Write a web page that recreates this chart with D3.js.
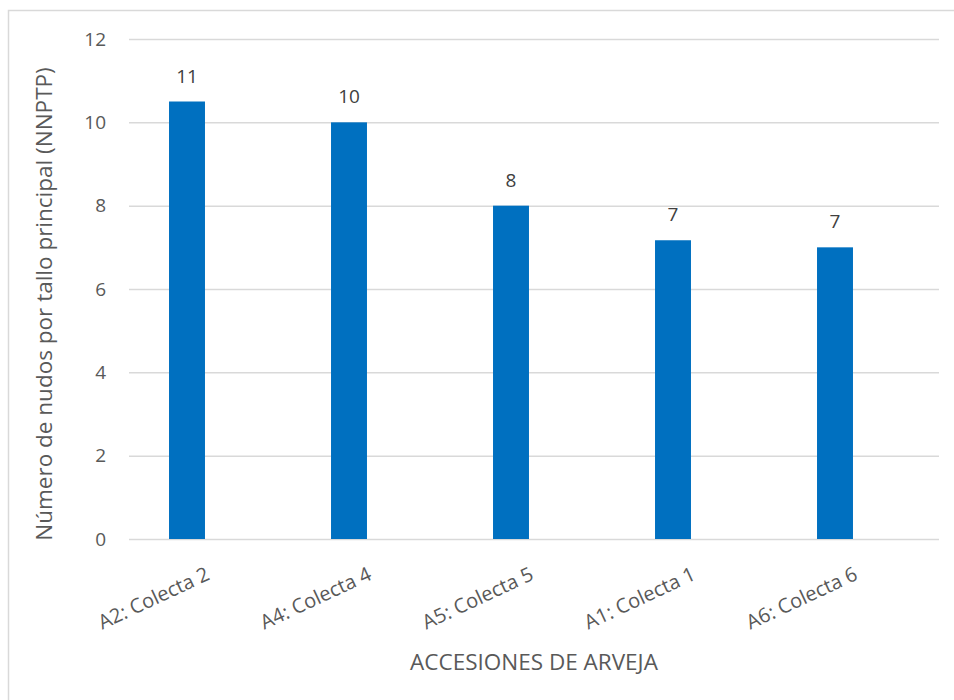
<!DOCTYPE html>
<html>
<head>
<meta charset="utf-8">
<script src="https://cdn.jsdelivr.net/npm/d3@7"></script>
<style>
  html, body { margin: 0; padding: 0; background: #fff; }
  svg { display: block; font-family: "Open Sans", "Noto Sans", sans-serif; }
</style>
</head>
<body>
<svg id="chart" width="954" height="700"></svg>
<script>
// Accessions and mean number of nodes on the main stem
const categories = ["A2: Colecta 2", "A4: Colecta 4", "A5: Colecta 5", "A1: Colecta 1", "A6: Colecta 6"];
const values = [10.5, 10, 8, 7.17, 7];
const yTicks = [0, 2, 4, 6, 8, 10, 12];
const yTitle = "Número de nudos por tallo principal (NNPTP)";
const xTitle = "ACCESIONES DE ARVEJA";

const W = 954, H = 700;
const plot = { left: 129, right: 939, top: 39, bottom: 539 };
const textColor = "#595959";
const gridColor = "#d9d9d9";
const barColor = "#0070c0";

const svg = d3.select("#chart");

// chart frame
svg.append("rect")
  .attr("x", 8.5).attr("y", 10.5)
  .attr("width", W + 20).attr("height", H + 20)
  .attr("fill", "none").attr("stroke", gridColor).attr("stroke-width", 1.5);

const y = d3.scaleLinear().domain([0, 12]).range([plot.bottom, plot.top]);

// category bands (bars sit slightly left of the grid's centre)
const x = d3.scaleBand()
  .domain(categories)
  .range([106, 916])
  .paddingInner(0.778)
  .paddingOuter(0.389);

// horizontal gridlines and value labels
const yAxis = d3.axisLeft(y)
  .tickValues(yTicks)
  .tickSize(-(plot.right - plot.left))
  .tickPadding(14)
  .tickFormat(d3.format("d"));

const gy = svg.append("g")
  .attr("transform", `translate(${plot.left},0)`)
  .call(yAxis);
gy.select(".domain").remove();
gy.selectAll(".tick line").attr("stroke", gridColor).attr("stroke-width", 1.5);
gy.selectAll(".tick text")
  .attr("fill", textColor)
  .attr("font-size", 19)
  .attr("x", -23)
  .attr("font-family", "'Open Sans', sans-serif");

// bars
svg.append("g").selectAll("rect")
  .data(values)
  .join("rect")
  .attr("x", (d, i) => x(categories[i]))
  .attr("y", d => y(d))
  .attr("width", x.bandwidth())
  .attr("height", d => y(0) - y(d))
  .attr("fill", barColor);

// data labels (rounded to whole nodes)
const fmt = d3.format(".0f");
svg.append("g").selectAll("text")
  .data(values)
  .join("text")
  .attr("x", (d, i) => x(categories[i]) + x.bandwidth() / 2)
  .attr("y", d => y(d) - 19)
  .attr("text-anchor", "middle")
  .attr("fill", "#404040")
  .attr("font-size", 19)
  .text(d => fmt(d));

// category labels, rotated
const gx = svg.append("g").attr("transform", `translate(0,${plot.bottom})`);
gx.selectAll("text")
  .data(categories)
  .join("text")
  .attr("transform", d => `translate(${x(d) + x.bandwidth() / 2 + 24},${40}) rotate(-25)`)
  .attr("text-anchor", "end")
  .attr("fill", textColor)
  .attr("font-size", 20)
  .text(d => d);

// axis titles
svg.append("text")
  .attr("x", 534)
  .attr("y", 670)
  .attr("text-anchor", "middle")
  .attr("fill", textColor)
  .attr("font-size", 22.5)
  .text(xTitle);

svg.append("text")
  .attr("transform", `translate(52,304) rotate(-90)`)
  .attr("text-anchor", "middle")
  .attr("fill", textColor)
  .attr("font-size", 22.5)
  .text(yTitle);
</script>
</body>
</html>
